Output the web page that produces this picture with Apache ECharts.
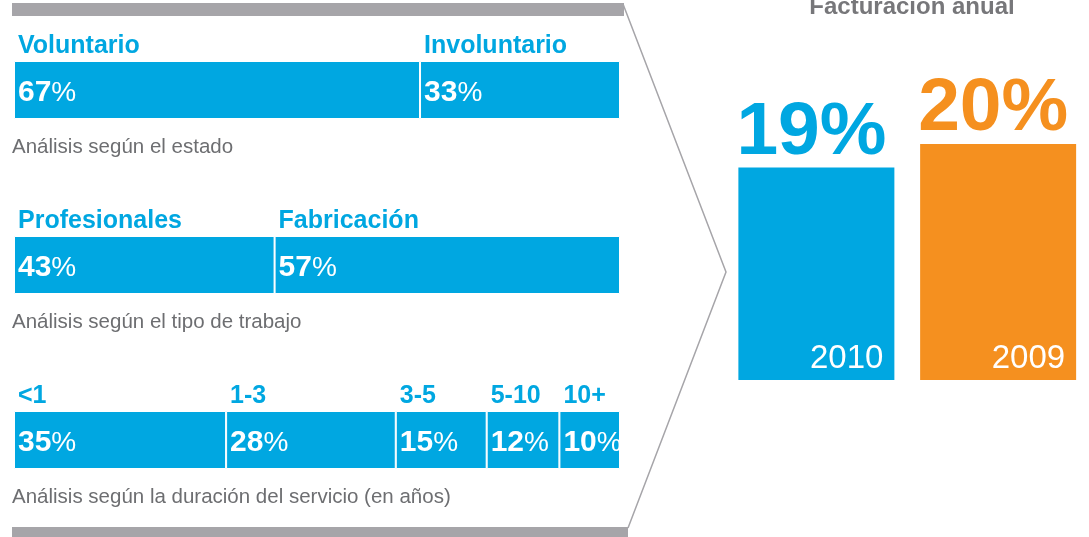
<!DOCTYPE html>
<html>
<head>
<meta charset="utf-8">
<script src="https://cdn.jsdelivr.net/npm/echarts@6/dist/echarts.min.js"></script>
<style>
  html, body { margin: 0; padding: 0; background: #fff; }
  #chart { width: 1089px; height: 537px; }
</style>
</head>
<body>
<div id="chart"></div>
<script>
// datos del análisis (izquierda)
const rowLabels = ['Análisis según el estado', 'Análisis según el tipo de trabajo', 'Análisis según la duración del servicio (en años)'];
const segNames = [['Voluntario', 'Involuntario'], ['Profesionales', 'Fabricación'], ['<1', '1-3', '3-5', '5-10', '10+']];
const segValues = [[67, 33], [43, 57], [35, 28, 15, 12, 10]];

// facturación anual (derecha)
const years = ['2010', '2009'];
const revenue = [19, 20];
const yearColors = ['#00a7e1', '#f5901f'];

const BLUE = '#00a7e1';
const FONT = '"Liberation Sans", Arial, sans-serif';

let chart = echarts.init(document.getElementById('chart'));

// una serie por posición de segmento, apiladas
let maxSeg = Math.max(...segValues.map(r => r.length));
let leftSeries = [];
for (let s = 0; s < maxSeg; s++) {
  leftSeries.push({
    type: 'bar',
    stack: 'total',
    xAxisIndex: 0,
    yAxisIndex: 0,
    barWidth: 58,
    silent: true,
    itemStyle: { color: BLUE, borderColor: '#fff', borderWidth: 1 },
    label: {
      show: true,
      position: [4, -28],
      align: 'left',
      verticalAlign: 'top',
      formatter: p => '{n|' + segNames[p.dataIndex][s] + '}\n{v|' + p.value + '}{p|%}',
      rich: {
        n: { fontFamily: FONT, fontSize: 25, fontWeight: 'bold', color: BLUE, lineHeight: 27 },
        v: { fontFamily: FONT, fontSize: 30, fontWeight: 'bold', color: '#fff', lineHeight: 66 },
        p: { fontFamily: FONT, fontSize: 28, color: '#fff', lineHeight: 66 }
      }
    },
    data: segValues.map(r => (r[s] === undefined ? null : r[s]))
  });
}

let option = {
  animation: false,
  title: {
    text: 'Facturación anual',
    left: 907,
    top: -10,
    textAlign: 'center',
    textStyle: { fontFamily: FONT, fontSize: 24, fontWeight: 'bold', color: '#77777a' }
  },
  grid: [
    { left: 14, width: 606, top: 2.5, height: 525 },
    { left: 725.5, width: 368, top: 144, height: 236 }
  ],
  xAxis: [
    { type: 'value', gridIndex: 0, min: 0, max: 100, show: false },
    { type: 'category', gridIndex: 1, data: years, show: false }
  ],
  yAxis: [
    {
      type: 'category', gridIndex: 0, data: rowLabels, inverse: true,
      axisLine: { show: false }, axisTick: { show: false }, splitLine: { show: false },
      axisLabel: {
        inside: true, margin: -2, align: 'left', verticalAlign: 'middle',
        formatter: v => '{gap| }\n{c|' + v + '}',
        rich: {
          gap: { lineHeight: 114, fontSize: 2 },
          c: { fontFamily: FONT, fontSize: 20.5, color: '#6d6e71', lineHeight: 20 }
        }
      }
    },
    { type: 'value', gridIndex: 1, min: 10, max: 20, show: false }
  ],
  graphic: [
    // barras grises y flecha
    { type: 'rect', shape: { x: 12, y: 3, width: 612, height: 13 }, style: { fill: '#a6a5a9' } },
    { type: 'rect', shape: { x: 12, y: 527, width: 616, height: 10 }, style: { fill: '#a6a5a9' } },
    { type: 'polyline', shape: { points: [[623, 4], [726, 272], [628, 528]] }, style: { stroke: '#a6a5a9', lineWidth: 1.5, fill: null } }
  ],
  series: leftSeries.concat([
    {
      type: 'bar',
      xAxisIndex: 1,
      yAxisIndex: 1,
      barWidth: 156,
      silent: true,
      data: revenue.map((v, i) => ({ value: v, itemStyle: { color: yearColors[i] } })),
      label: {
        show: true,
        position: 'insideBottomRight',
        offset: [-6, 0],
        formatter: '{b}',
        fontFamily: FONT, fontSize: 33, color: '#fff'
      }
    },
    {
      type: 'bar',
      xAxisIndex: 1,
      yAxisIndex: 1,
      barWidth: 156,
      barGap: '-100%',
      silent: true,
      itemStyle: { color: 'rgba(0,0,0,0)' },
      data: revenue.map((v, i) => ({
        value: v,
        label: { rich: { d: { color: yearColors[i] }, p: { color: yearColors[i] } } }
      })),
      label: {
        show: true,
        position: [-2, 3],
        align: 'left',
        verticalAlign: 'bottom',
        formatter: '{d|{c}}{p|%}',
        rich: {
          d: { fontFamily: FONT, fontSize: 75, fontWeight: 'bold' },
          p: { fontFamily: FONT, fontSize: 75, fontWeight: 'bold' }
        }
      }
    }
  ])
};
chart.setOption(option);
</script>
</body>
</html>
